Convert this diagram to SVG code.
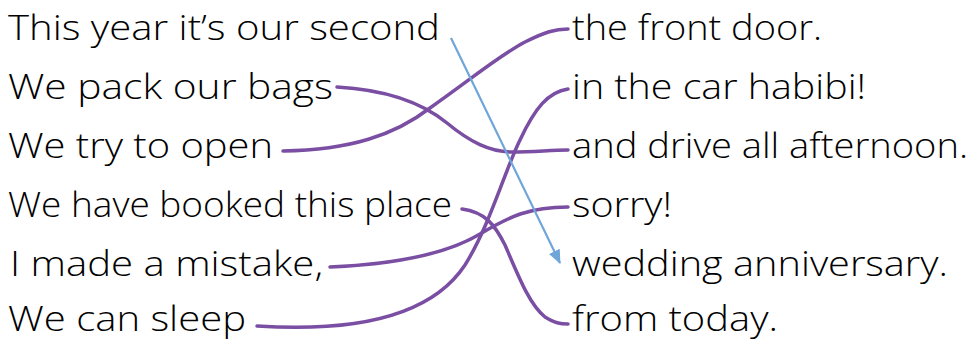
<svg xmlns="http://www.w3.org/2000/svg" width="972" height="341" viewBox="0 0 972 341">
<defs>
<style>
text{font-family:"Open Sans","Noto Sans","Liberation Sans",sans-serif;font-size:35px;font-weight:300;fill:#000;}
.c{fill:none;stroke:#7a4ea3;stroke-width:3.5;stroke-linecap:round;}
.b{fill:none;stroke:#6fa5d9;stroke-width:2.2;}
</style>
<marker id="ah" markerWidth="14" markerHeight="12" refX="13" refY="6" orient="auto" markerUnits="userSpaceOnUse">
<path d="M0,0 L14,6 L0,12 Z" fill="#6fa5d9"/>
</marker>
</defs>
<rect width="972" height="341" fill="#fff"/>
<g id="l1"><text x="8" y="40" textLength="432" lengthAdjust="spacingAndGlyphs">This year it’s our second</text></g>
<g id="l2"><text x="8" y="99" textLength="325" lengthAdjust="spacingAndGlyphs">We pack our bags</text></g>
<g id="l3"><text x="8" y="158" textLength="265" lengthAdjust="spacingAndGlyphs">We try to open</text></g>
<g id="l4"><text x="8" y="217" textLength="444" lengthAdjust="spacingAndGlyphs">We have booked this place</text></g>
<g id="l5"><text x="10" y="276" textLength="313" lengthAdjust="spacingAndGlyphs">I made a mistake,</text></g>
<g id="l6"><text x="8" y="331" textLength="238" lengthAdjust="spacingAndGlyphs">We can sleep</text></g>
<g id="r1"><text x="572" y="40" textLength="250" lengthAdjust="spacingAndGlyphs">the front door.</text></g>
<g id="r2"><text x="572" y="99" textLength="294" lengthAdjust="spacingAndGlyphs">in the car habibi!</text></g>
<g id="r3"><text x="572" y="158" textLength="396" lengthAdjust="spacingAndGlyphs">and drive all afternoon.</text></g>
<g id="r4"><text x="572" y="217" textLength="100" lengthAdjust="spacingAndGlyphs">sorry!</text></g>
<g id="r5"><text x="572" y="276" textLength="376" lengthAdjust="spacingAndGlyphs">wedding anniversary.</text></g>
<g id="r6"><text x="572" y="331" textLength="206" lengthAdjust="spacingAndGlyphs">from today.</text></g>
<g id="connectors">
<path class="c" d="M337,87 C390,90 425,105 447,123 C470,142 490,152 512,152 C535,152 550,150 568,150"/>
<path class="c" d="M283,151 C350,150 395,135 430,108 C470,80 500,55 525,42 C545,32 555,29 568,29"/>
<path class="c" d="M462,209 C485,212 495,225 505,245 C520,280 530,305 545,317 C555,323 560,324 568,324"/>
<path class="c" d="M330,267 C400,264 450,252 480,234 C510,216 530,207 568,207"/>
<path class="c" d="M257,326 C350,332 430,318 465,265 C490,225 505,170 520,140 C535,108 548,92 568,89"/>
<line class="b" x1="451" y1="38" x2="560" y2="263" marker-end="url(#ah)"/>
</g>
</svg>
